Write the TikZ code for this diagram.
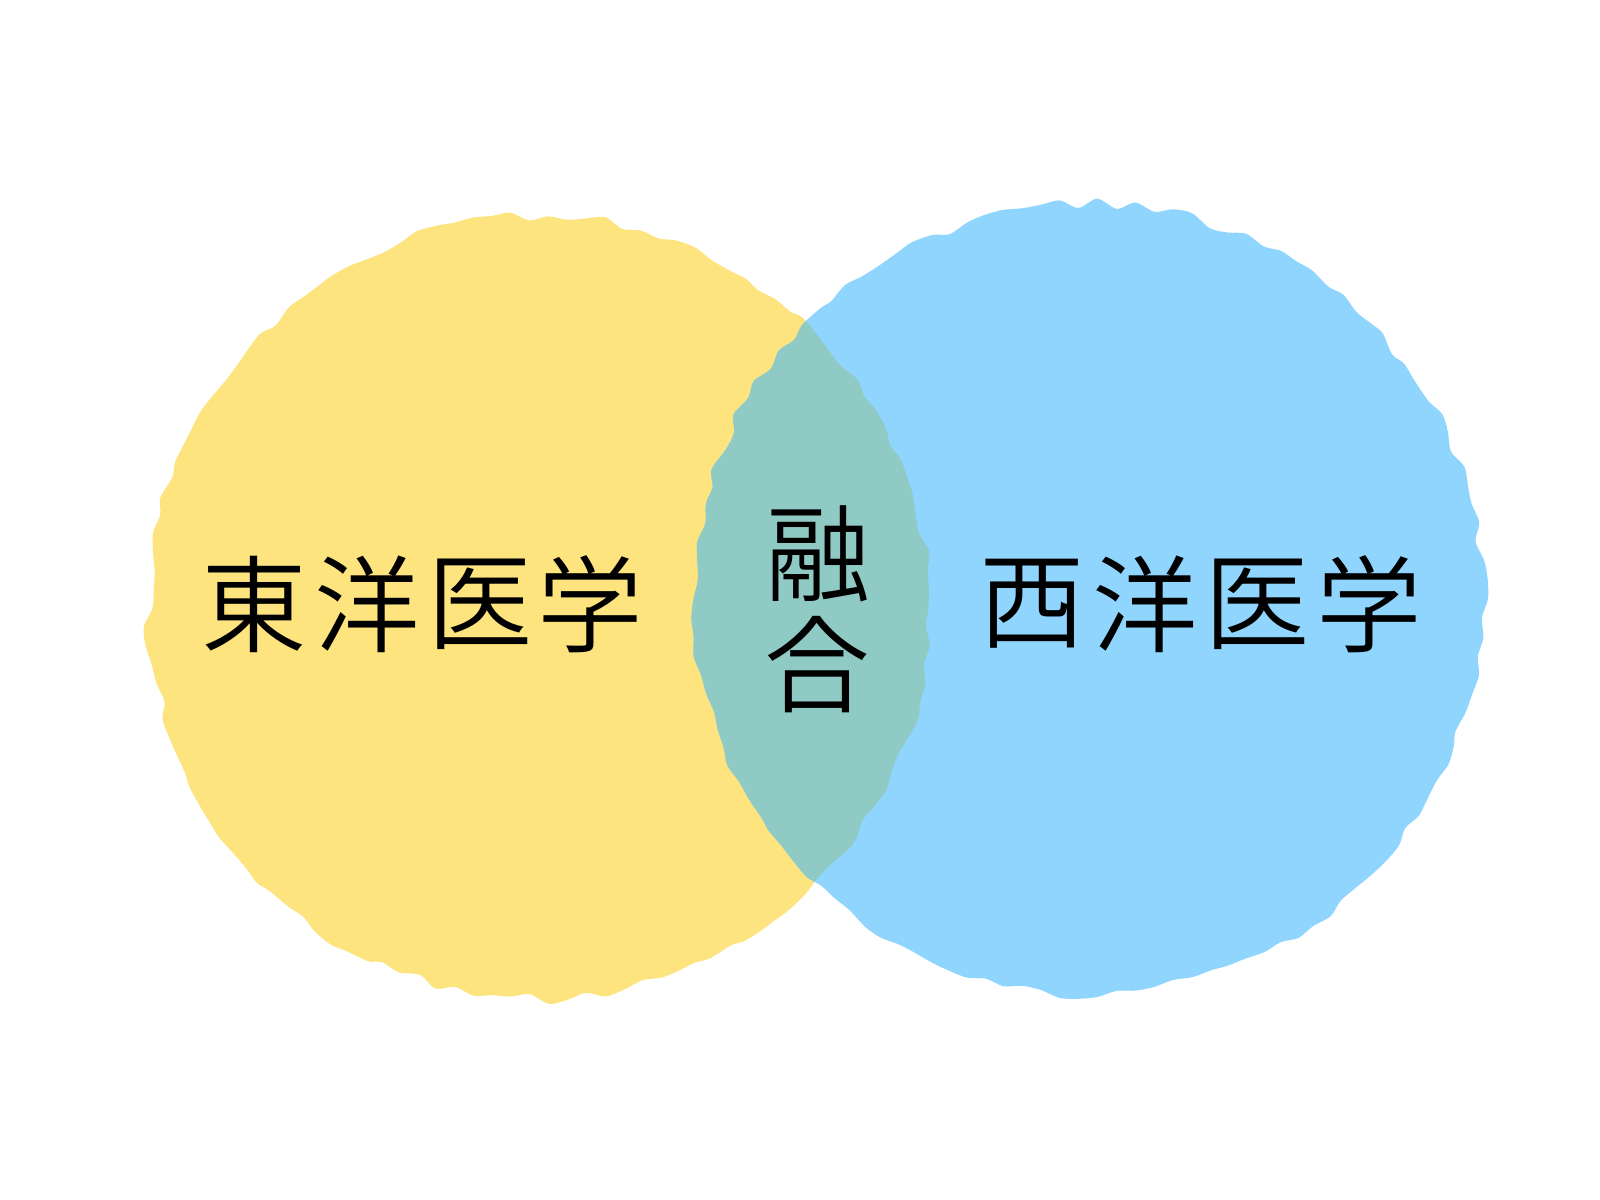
\documentclass[tikz,border=0pt]{standalone}
\usepackage{fontspec}
\IfFontExistsTF{Noto Sans CJK JP DemiLight}{\newfontfamily\jpfont{Noto Sans CJK JP DemiLight}}{\newfontfamily\jpfont{Noto Sans CJK JP}}
\definecolor{eastyellow}{HTML}{FDE47E}
\definecolor{westblue}{HTML}{8FD5FD}
\definecolor{fuseteal}{HTML}{90CAC4}
\tikzset{
  glyph/.style={font=\jpfont\fontsize{30pt}{30pt}\selectfont, inner sep=0pt, anchor=center, text=black},
}
\newcommand{\blobpath}[3]{plot[smooth cycle, domain=0:357.2, samples=130, shift={(#1,#2)}] (\x:{#3+11*rnd-5.5})}
\begin{document}
\begin{tikzpicture}[x=0.01cm, y=-0.01cm]
\fill[white] (0,0) rectangle (1600,1200);
\useasboundingbox (0,0) rectangle (1600,1200);
% east blob
\pgfmathsetseed{11}
\fill[eastyellow] \blobpath{539}{608}{391};
% west blob
\pgfmathsetseed{23}
\fill[westblue] \blobpath{1088}{599}{395};
% overlap
\begin{scope}
  \pgfmathsetseed{11}
  \clip \blobpath{539}{608}{391};
  \pgfmathsetseed{23}
  \fill[fuseteal] \blobpath{1088}{599}{395};
\end{scope}
% texts
\node[glyph] (e1) at (254,604) {東};
\node[glyph] (e2) at (367,604) {洋};
\node[glyph] (e3) at (480,604) {医};
\node[glyph] (e4) at (590,604) {学};
\node[glyph] (w1) at (1032,604) {西};
\node[glyph] (w2) at (1145,604) {洋};
\node[glyph] (w3) at (1257,604) {医};
\node[glyph] (w4) at (1369,604) {学};
\node[glyph] (f1) at (818,554) {融};
\node[glyph] (f2) at (817,665) {合};
\end{tikzpicture}
\end{document}
